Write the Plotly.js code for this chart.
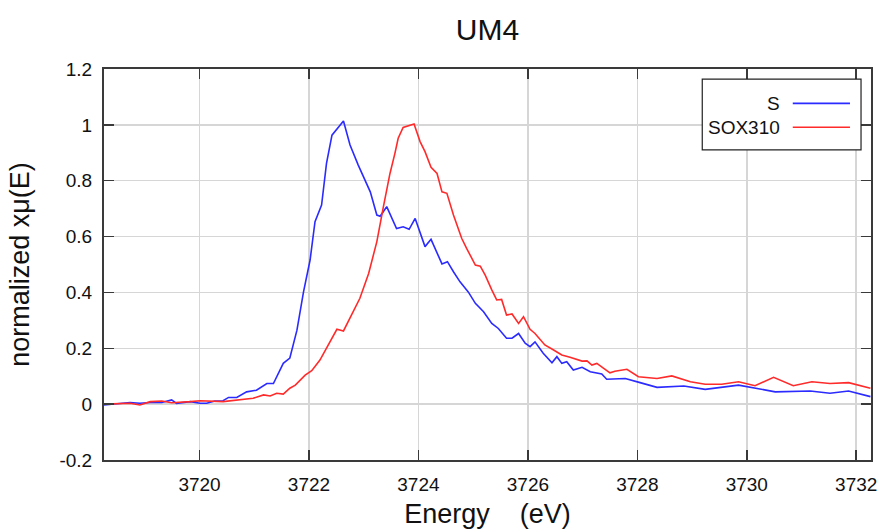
<!DOCTYPE html>
<html>
<head>
<meta charset="utf-8">
<script src="https://cdn.plot.ly/plotly-3.0.1.min.js"></script>
<style>html,body{margin:0;padding:0;background:#fff;}#chart{width:884px;height:530px;}</style>
</head>
<body>
<div id="chart"></div>
<script>
// Series S
const energyS = [3718.25,3718.55,3718.73,3718.91,3719.10,3719.31,3719.49,3719.58,3719.83,3720.01,3720.13,3720.28,3720.43,3720.53,3720.68,3720.86,3721.04,3721.23,3721.35,3721.53,3721.65,3721.78,3721.90,3722.02,3722.11,3722.23,3722.32,3722.42,3722.63,3722.75,3722.90,3723.12,3723.24,3723.30,3723.42,3723.60,3723.72,3723.83,3723.94,3724.12,3724.23,3724.43,3724.53,3724.64,3724.76,3724.91,3725.04,3725.19,3725.34,3725.46,3725.61,3725.71,3725.83,3725.95,3726.04,3726.13,3726.28,3726.44,3726.53,3726.62,3726.71,3726.83,3726.99,3727.14,3727.35,3727.44,3727.78,3728.05,3728.36,3728.85,3729.24,3729.85,3730.18,3730.52,3731.16,3731.52,3731.86,3732.26];
const muS = [-0.003,0.003,0.006,0.003,0.006,0.006,0.015,0.003,0.009,0.003,0.003,0.011,0.012,0.024,0.024,0.044,0.050,0.074,0.074,0.146,0.165,0.265,0.402,0.516,0.653,0.713,0.862,0.963,1.014,0.928,0.856,0.760,0.677,0.673,0.707,0.629,0.635,0.626,0.665,0.564,0.590,0.502,0.510,0.474,0.438,0.402,0.361,0.331,0.289,0.271,0.236,0.236,0.253,0.218,0.206,0.223,0.182,0.148,0.170,0.146,0.152,0.122,0.132,0.116,0.108,0.089,0.092,0.077,0.060,0.065,0.053,0.068,0.057,0.044,0.047,0.039,0.047,0.027];

// Series SOX310
const energySOX = [3718.25,3718.55,3718.73,3718.91,3719.10,3719.31,3719.49,3719.83,3720.01,3720.43,3720.68,3720.98,3721.17,3721.29,3721.41,3721.53,3721.65,3721.75,3721.93,3722.05,3722.20,3722.35,3722.51,3722.63,3722.75,3722.93,3723.09,3723.24,3723.36,3723.48,3723.57,3723.63,3723.72,3723.92,3724.03,3724.12,3724.23,3724.34,3724.43,3724.52,3724.64,3724.79,3724.88,3725.04,3725.13,3725.22,3725.34,3725.43,3725.52,3725.61,3725.71,3725.83,3725.92,3726.04,3726.13,3726.31,3726.47,3726.62,3726.77,3726.99,3727.08,3727.17,3727.26,3727.50,3727.59,3727.81,3728.02,3728.36,3728.63,3728.97,3729.24,3729.54,3729.85,3730.15,3730.49,3730.85,3731.19,3731.52,3731.86,3732.26];
const muSOX = [0.000,0.003,0.003,-0.003,0.009,0.011,0.005,0.009,0.012,0.009,0.015,0.021,0.033,0.029,0.039,0.036,0.057,0.068,0.104,0.120,0.158,0.212,0.268,0.262,0.307,0.379,0.468,0.582,0.707,0.826,0.898,0.952,0.991,1.003,0.940,0.904,0.848,0.826,0.760,0.755,0.677,0.594,0.558,0.498,0.494,0.462,0.409,0.373,0.375,0.319,0.323,0.289,0.313,0.268,0.253,0.212,0.194,0.176,0.168,0.154,0.155,0.140,0.146,0.112,0.118,0.125,0.098,0.092,0.101,0.080,0.071,0.071,0.080,0.066,0.096,0.066,0.080,0.074,0.077,0.057];

const seriesNames = ['S', 'SOX310'];
const seriesColors = ['#2b2bff', '#ff2b2b'];

const xTickVals = [3720,3722,3724,3726,3728,3730,3732];
const xTickText = ['3720','3722','3724','3726','3728','3730','3732'];
const yTickVals = [-0.2,0,0.2,0.4,0.6,0.8,1,1.2];
const yTickText = ['-0.2','0','0.2','0.4','0.6','0.8','1','1.2'];

const FONT = 'Liberation Sans, Arial, sans-serif';

const traces = [
  {x: energyS, y: muS, name: seriesNames[0], type: 'scatter', mode: 'lines', line: {color: seriesColors[0], width: 1.6}, showlegend: false},
  {x: energySOX, y: muSOX, name: seriesNames[1], type: 'scatter', mode: 'lines', line: {color: seriesColors[1], width: 1.6}, showlegend: false}
];

// custom legend (text right, line sample to the right) in paper coordinates
const legRows = [0.912, 0.851];
const shapes = [
  {type: 'rect', xref: 'paper', yref: 'paper', x0: 0.780, x1: 0.987, y0: 0.793, y1: 0.974, line: {color: '#222', width: 1.2}, fillcolor: '#fff', layer: 'above'}
];
const annotations = [];
seriesNames.forEach((n, i) => {
  shapes.push({type: 'line', xref: 'paper', yref: 'paper', x0: 0.898, x1: 0.9726, y0: legRows[i], y1: legRows[i], line: {color: seriesColors[i], width: 1.6}, layer: 'above'});
  annotations.push({xref: 'paper', yref: 'paper', x: 0.8836, y: legRows[i], xanchor: 'right', yanchor: 'middle', text: n, showarrow: false, font: {family: FONT, size: 19, color: '#111'}});
});

const axisCommon = {
  showline: true, linecolor: '#3a3a3a', linewidth: 2, mirror: 'ticks',
  ticks: 'inside', ticklen: 10, tickwidth: 1.5, tickcolor: '#3a3a3a',
  showgrid: true, gridcolor: '#d6d6d6', gridwidth: 1.5, zeroline: false,
  tickfont: {family: FONT, size: 19, color: '#111'}
};

const layout = {
  width: 884, height: 530,
  margin: {l: 104, r: 13, t: 69, b: 70},
  paper_bgcolor: '#fff', plot_bgcolor: '#fff',
  title: {text: 'UM4', x: 0.5515, xanchor: 'center', y: 0.945, yanchor: 'middle', font: {family: FONT, size: 30, color: '#111'}},
  xaxis: Object.assign({}, axisCommon, {
    range: [3718.254, 3732.27], tickmode: 'array', tickvals: xTickVals, ticktext: xTickText,
    ticklabelstandoff: 6,
    title: {text: 'Energy\u00a0\u00a0\u00a0\u00a0(eV)', font: {family: FONT, size: 27, color: '#111'}, standoff: 10}
  }),
  yaxis: Object.assign({}, axisCommon, {
    range: [-0.2, 1.2], tickmode: 'array', tickvals: yTickVals, ticktext: yTickText,
    ticklabelstandoff: 6,
    title: {text: 'normalized xμ(E)', font: {family: FONT, size: 27, color: '#111'}, standoff: 22}
  }),
  shapes: shapes,
  annotations: annotations,
  showlegend: false
};

Plotly.newPlot('chart', traces, layout, {displayModeBar: false, staticPlot: true});
</script>
</body>
</html>
